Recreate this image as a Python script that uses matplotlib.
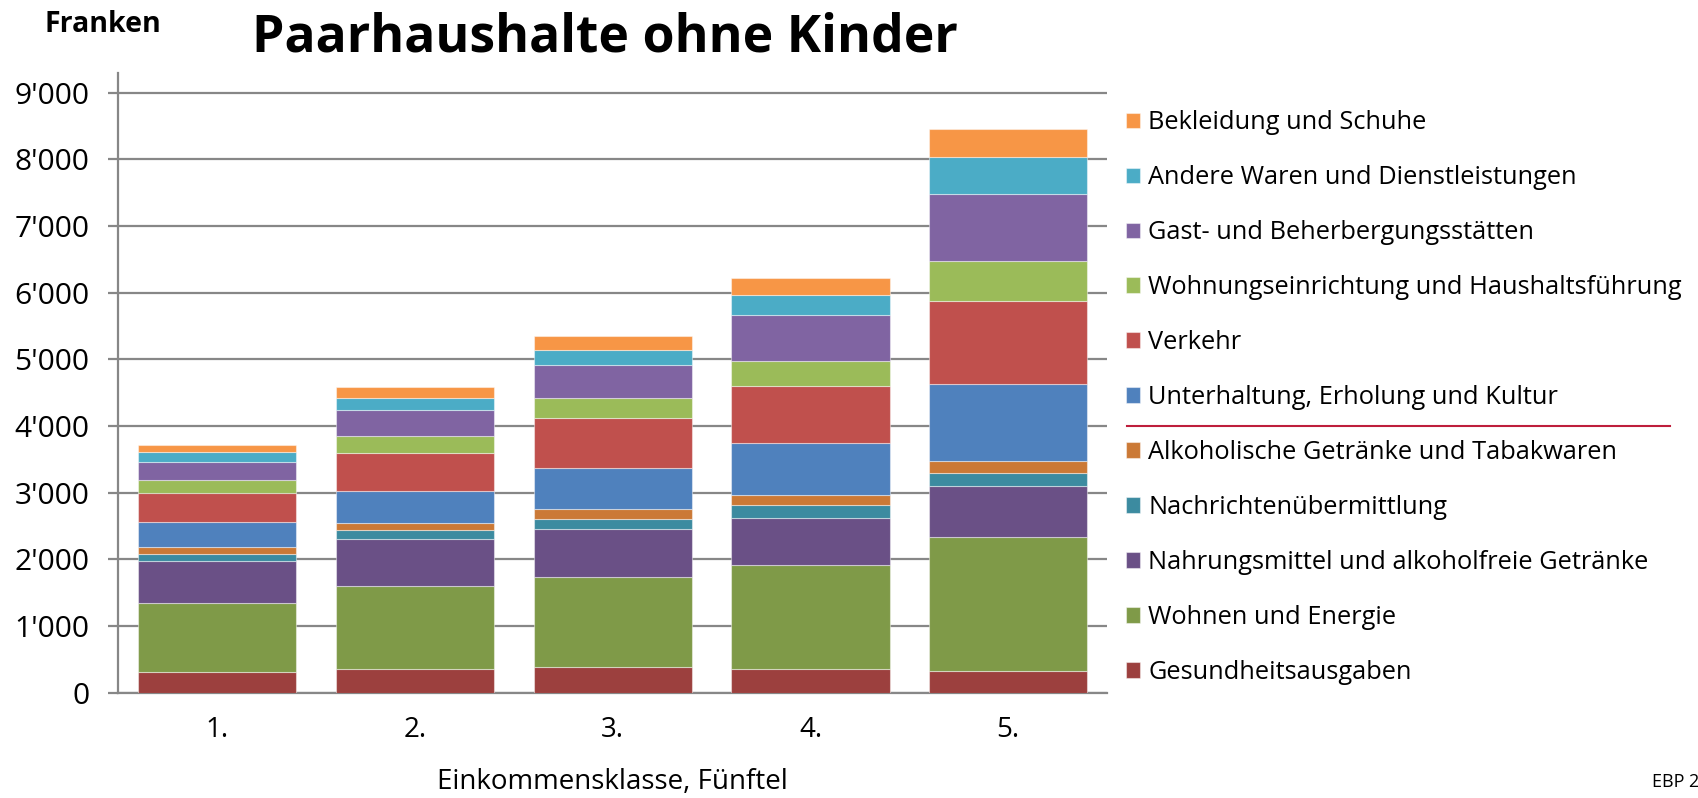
import matplotlib
matplotlib.use("Agg")
import matplotlib.pyplot as plt
from matplotlib.ticker import FuncFormatter
from matplotlib.lines import Line2D
import numpy as np

plt.rcParams['font.family'] = ['Open Sans', 'DejaVu Sans']

# data (Franken pro Monat), stacked bottom -> top
classes = ["1.", "2.", "3.", "4.", "5."]
gesundheit = [315, 360, 390, 350, 333]
wohnen = [1025, 1235, 1340, 1570, 2005]
nahrung = [635, 705, 720, 705, 760]
nachrichten = [105, 135, 155, 185, 192]
alkohol = [100, 105, 145, 160, 182]
unterhaltung = [375, 480, 615, 770, 1157]
verkehr = [445, 580, 760, 865, 1245]
wohnungseinr = [185, 250, 290, 370, 596]
gast = [280, 385, 505, 690, 1011]
andere = [150, 190, 225, 295, 561]
bekleidung = [100, 160, 205, 255, 421]

labels = ["Gesundheitsausgaben", "Wohnen und Energie",
          "Nahrungsmittel und alkoholfreie Getränke", "Nachrichtenübermittlung",
          "Alkoholische Getränke und Tabakwaren", "Unterhaltung, Erholung und Kultur",
          "Verkehr", "Wohnungseinrichtung und Haushaltsführung",
          "Gast- und Beherbergungsstätten", "Andere Waren und Dienstleistungen",
          "Bekleidung und Schuhe"]
series = [gesundheit, wohnen, nahrung, nachrichten, alkohol, unterhaltung,
          verkehr, wohnungseinr, gast, andere, bekleidung]
colors = ["#9C403E", "#7F9A48", "#6A5086", "#3C8BA0", "#CB7936", "#4F81BD",
          "#C0504D", "#9BBB59", "#8064A2", "#4BACC6", "#F79646"]

W, H = 1699, 798
fig = plt.figure(figsize=(W / 100, H / 100), dpi=100)
ax = fig.add_axes([118.5 / W, (H - 692.7) / H, 988.5 / W, 620 / H])

x = np.arange(len(classes))
bottom = np.zeros(len(classes))
handles = []
for vals, lab, col in zip(series, labels, colors):
    b = ax.bar(x, vals, width=0.8, bottom=bottom, color=col, label=lab,
               edgecolor=(1, 1, 1, 0.45), linewidth=0.8, zorder=3)
    handles.append(b)
    bottom += np.array(vals)

ax.set_xlim(-0.5, 4.5)
ax.set_ylim(0, 9300)
ax.set_yticks(np.arange(0, 9001, 1000))
ax.yaxis.set_major_formatter(FuncFormatter(lambda v, p: f"{int(v):,}".replace(",", "'")))
ax.set_xticks(x)
ax.set_xticklabels(classes)
ax.grid(axis='y', color='#878787', linewidth=1.6, zorder=0)
for s in ['top', 'right']:
    ax.spines[s].set_visible(False)
for s in ['left', 'bottom']:
    ax.spines[s].set_color('#878787')
    ax.spines[s].set_linewidth(1.6)
ax.tick_params(axis='y', length=7, width=1.6, color='#878787', pad=14, labelsize=21.5)
ax.tick_params(axis='x', length=0, pad=17, labelsize=20)
ax.set_xlabel("Einkommensklasse, Fünftel", fontsize=20, labelpad=17)

fig.text(252 / W, 1 - 38 / H, "Paarhaushalte ohne Kinder", fontsize=37.3,
         fontweight='bold', va='center', ha='left')
fig.text(45 / W, 1 - 24 / H, "Franken", fontsize=20.5, fontweight='bold',
         va='center', ha='left')
fig.text(1652 / W, 1 - 782 / H, "EBP 2", fontsize=13, va='center', ha='left')

leg = fig.legend(handles[::-1], labels[::-1], loc='upper left',
                 bbox_to_anchor=(1116 / W, 1 - 100 / H), frameon=False,
                 fontsize=18.3, handlelength=0.55, handleheight=0.55,
                 handletextpad=0.32, labelspacing=1.18, borderaxespad=0)

fig.add_artist(Line2D([1127 / W, 1670 / W], [1 - 426 / H, 1 - 426 / H],
                      color='#BE1E3C', linewidth=1.5))

fig.savefig("out.png", dpi=100)
